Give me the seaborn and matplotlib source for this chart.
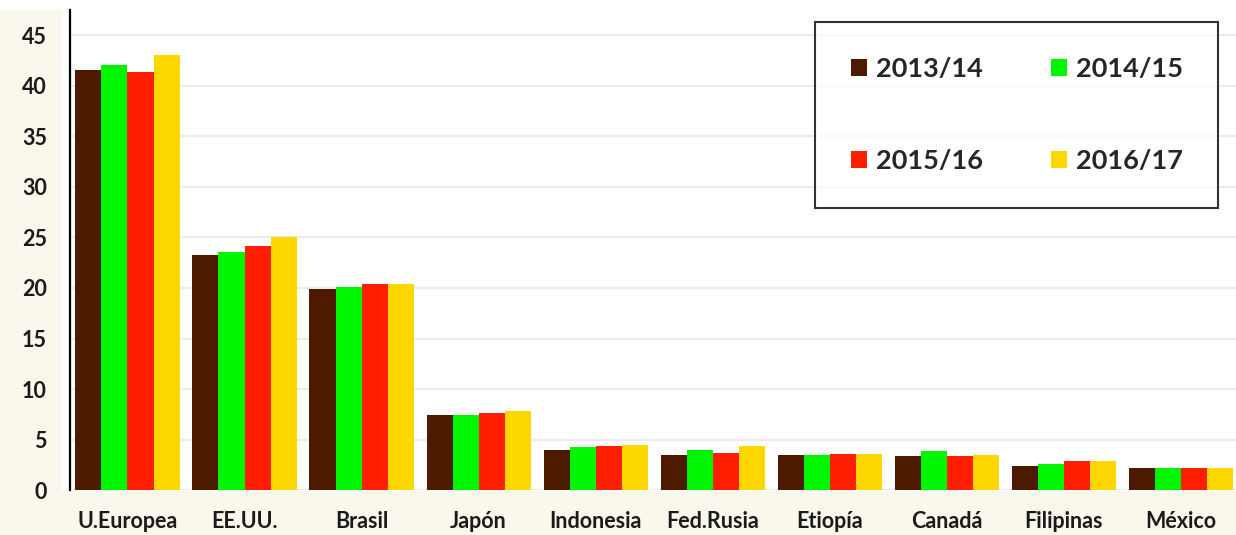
import matplotlib
matplotlib.use("Agg")
import matplotlib.pyplot as plt
from matplotlib.patches import Rectangle
import seaborn as sns
import pandas as pd

# Categories and seasons
countries = ["U.Europea", "EE.UU.", "Brasil", "Japón", "Indonesia",
             "Fed.Rusia", "Etiopía", "Canadá", "Filipinas", "México"]
seasons = ["2013/14", "2014/15", "2015/16", "2016/17"]

# Values per season (one entry per country)
v_2013_14 = [41.6, 23.3, 19.9, 7.4, 4.0, 3.5, 3.5, 3.4, 2.4, 2.2]
v_2014_15 = [42.1, 23.6, 20.1, 7.4, 4.3, 4.0, 3.5, 3.9, 2.6, 2.2]
v_2015_16 = [41.4, 24.2, 20.4, 7.6, 4.4, 3.7, 3.6, 3.4, 2.9, 2.2]
v_2016_17 = [43.1, 25.0, 20.4, 7.8, 4.5, 4.4, 3.6, 3.5, 2.9, 2.2]

colors = ["#4d1a00", "#00f500", "#ff1e00", "#ffd700"]

series = [v_2013_14, v_2014_15, v_2015_16, v_2016_17]
df = pd.DataFrame(
    [(c, s, v) for s, vals in zip(seasons, series) for c, v in zip(countries, vals)],
    columns=["country", "season", "value"],
)

sns.set_theme(style="white")
plt.rcParams["font.family"] = ["Lato", "DejaVu Sans"]
plt.rcParams["font.weight"] = "bold"

cream = "#faf7ec"
fig = plt.figure(figsize=(12.36, 5.35), dpi=100, facecolor="white")
# cream margin strips on the left and along the bottom
fig.patches.append(Rectangle((0, 0), 1, 0.082, transform=fig.transFigure,
                             facecolor=cream, edgecolor="none", zorder=-10))
fig.patches.append(Rectangle((0, 0), 0.05, 0.981, transform=fig.transFigure,
                             facecolor=cream, edgecolor="none", zorder=-10))

ax = fig.add_axes([0.057, 0.084, 0.943, 0.897])
ax.set_facecolor("white")

sns.barplot(
    data=df, x="country", y="value", hue="season",
    hue_order=seasons, order=countries, palette=colors,
    width=0.89, gap=0, saturation=1, errorbar=None, ax=ax,
    linewidth=0,
)

ax.set_ylim(0, 47.5)
ax.set_xlim(-0.487, 9.47)
ax.set_yticks(range(0, 46, 5))
ax.yaxis.grid(True, color="#ebebeb", linewidth=1.5)
ax.set_axisbelow(True)
ax.set_xlabel("")
ax.set_ylabel("")

for side in ["top", "right", "bottom"]:
    ax.spines[side].set_visible(False)
ax.spines["left"].set_color("black")
ax.spines["left"].set_linewidth(1.6)

ax.tick_params(axis="y", length=0, pad=17, labelsize=15.5, labelcolor="#1a1a1a")
ax.tick_params(axis="x", length=0, pad=15, labelsize=15.5, labelcolor="#1a1a1a")
for lbl in ax.get_xticklabels() + ax.get_yticklabels():
    lbl.set_fontweight("bold")

handles, labels = ax.get_legend_handles_labels()
ax.legend_.remove()
# row-wise order in a two-column legend
order = [0, 2, 1, 3]
leg = fig.legend(
    [handles[i] for i in order], [labels[i] for i in order],
    ncol=2, loc="upper right",
    bbox_to_anchor=(0.9854, 0.959),
    frameon=True, fancybox=False, edgecolor="black",
    prop={"family": "Lato", "weight": "bold", "size": 19.5},
    handlelength=0.6, handleheight=0.6, handletextpad=0.33,
    labelspacing=2.5, columnspacing=2.5, borderpad=1.3, borderaxespad=0,
)
leg.get_frame().set_linewidth(1.5)

fig.savefig("out.png", dpi=100, facecolor=fig.get_facecolor())
